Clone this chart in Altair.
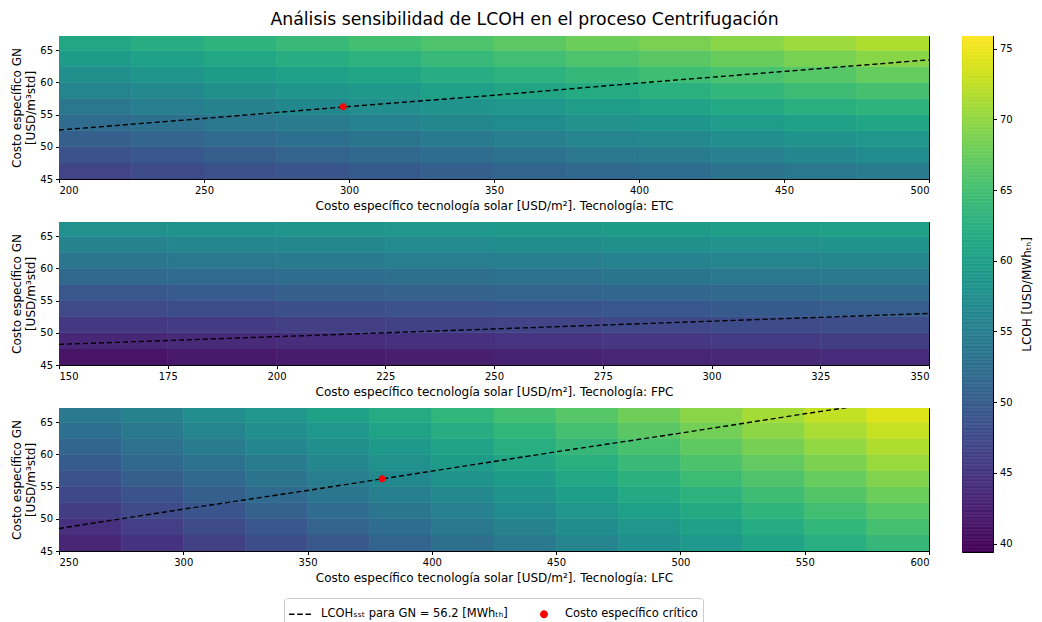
import altair as alt
import pandas as pd

TITLE = "Análisis sensibilidad de LCOH en el proceso Centrifugación"
LEG_LINE = "LCOHₛₛₜ para GN = 56.2 [MWhₜₕ]"
LEG_PT = "Costo específico crítico"
CB_TITLE = "LCOH [USD/MWhₜₕ]"

GN_EDGES = [45, 47.5, 50, 52.5, 55, 57.5, 60, 62.5, 65, 67.5]
GN_TICKS = [45, 50, 55, 60, 65]
LCOH_TICKS = [40, 45, 50, 55, 60, 65, 70, 75]
LCOH_RANGE = [39.4, 75.9]

# ETC
ETC_X_EDGES = [200, 225, 250, 275, 300, 325, 350, 375, 400, 425, 450, 475, 500]
ETC_TICKS = [200, 250, 300, 350, 400, 450, 500]
ETC_LCOH = [
    [46.7, 47.5, 48.2, 48.9, 49.6, 50.3, 51.0, 51.7, 52.4, 53.2, 53.9, 54.6],
    [48.5, 49.3, 50.1, 50.8, 51.5, 52.3, 53.1, 53.8, 54.5, 55.3, 56.1, 56.8],
    [50.3, 51.1, 51.9, 52.7, 53.4, 54.3, 55.0, 55.8, 56.6, 57.3, 58.1, 58.9],
    [52.1, 52.9, 53.8, 54.5, 55.4, 56.2, 56.9, 57.8, 58.6, 59.4, 60.2, 61.0],
    [53.9, 54.7, 55.6, 56.4, 57.3, 58.1, 58.9, 59.7, 60.6, 61.4, 62.3, 63.1],
    [55.8, 56.6, 57.5, 58.3, 59.2, 60.1, 60.9, 61.8, 62.6, 63.5, 64.4, 65.2],
    [57.5, 58.4, 59.3, 60.2, 61.0, 62.0, 62.9, 63.7, 64.6, 65.5, 66.4, 67.3],
    [59.3, 60.2, 61.2, 62.1, 62.9, 63.9, 64.8, 65.7, 66.6, 67.5, 68.5, 69.4],
    [61.1, 62.0, 63.0, 64.0, 64.9, 65.8, 66.7, 67.7, 68.6, 69.6, 70.6, 71.5],
]
ETC_LINE_X = [200, 250, 300, 350, 400, 450, 500]
ETC_LINE_GN = [52.6, 54.4, 56.25, 58.0, 59.9, 61.7, 63.5]
ETC_CRIT_X = [298]
ETC_CRIT_GN = [56.2]

# FPC
FPC_X_EDGES = [150, 175, 200, 225, 250, 275, 300, 325, 350]
FPC_TICKS = [150, 175, 200, 225, 250, 275, 300, 325, 350]
FPC_LCOH = [
    [41.2, 41.6, 42.0, 42.3, 42.7, 43.1, 43.5, 43.8],
    [43.3, 43.6, 44.0, 44.4, 44.8, 45.1, 45.5, 45.9],
    [45.3, 45.7, 46.1, 46.5, 46.8, 47.2, 47.6, 47.9],
    [47.4, 47.8, 48.1, 48.5, 48.9, 49.3, 49.6, 50.0],
    [49.4, 49.8, 50.2, 50.6, 50.9, 51.3, 51.7, 52.1],
    [51.5, 51.9, 52.3, 52.6, 53.0, 53.4, 53.8, 54.1],
    [53.6, 53.9, 54.3, 54.7, 55.1, 55.4, 55.8, 56.2],
    [55.6, 56.0, 56.4, 56.7, 57.1, 57.5, 57.9, 58.2],
    [57.7, 58.0, 58.4, 58.8, 59.2, 59.5, 59.9, 60.3],
]
FPC_LINE_X = [150, 175, 200, 225, 250, 275, 300, 325, 350]
FPC_LINE_GN = [48.2, 48.8, 49.4, 50.0, 50.6, 51.2, 51.8, 52.4, 53.0]

# LFC
LFC_X_EDGES = [250, 275, 300, 325, 350, 375, 400, 425, 450, 475, 500, 525, 550, 575, 600]
LFC_TICKS = [250, 300, 350, 400, 450, 500, 550, 600]
LFC_LCOH = [
    [43.0, 44.6, 46.2, 47.8, 49.4, 51.0, 52.6, 54.2, 55.8, 57.4, 59.0, 60.6, 62.2, 63.8],
    [44.4, 46.0, 47.6, 49.2, 50.8, 52.4, 54.0, 55.5, 57.1, 58.7, 60.3, 61.9, 63.5, 65.1],
    [45.8, 47.4, 48.9, 50.5, 52.1, 53.7, 55.3, 56.9, 58.5, 60.1, 61.6, 63.2, 64.8, 66.4],
    [47.2, 48.7, 50.3, 51.9, 53.5, 55.1, 56.6, 58.2, 59.8, 61.4, 62.9, 64.5, 66.1, 67.7],
    [48.5, 50.1, 51.7, 53.3, 54.8, 56.4, 58.0, 59.5, 61.1, 62.7, 64.3, 65.8, 67.4, 69.0],
    [49.9, 51.5, 53.1, 54.6, 56.2, 57.7, 59.3, 60.9, 62.4, 64.0, 65.6, 67.1, 68.7, 70.3],
    [51.3, 52.9, 54.4, 56.0, 57.5, 59.1, 60.6, 62.2, 63.8, 65.3, 66.9, 68.4, 70.0, 71.5],
    [52.7, 54.2, 55.8, 57.3, 58.9, 60.4, 62.0, 63.5, 65.1, 66.6, 68.2, 69.7, 71.3, 72.8],
    [54.1, 55.6, 57.2, 58.7, 60.2, 61.8, 63.3, 64.9, 66.4, 67.9, 69.5, 71.0, 72.6, 74.1],
]
LFC_LINE_X = [250, 300, 350, 400, 450, 500, 550, 571]
LFC_LINE_GN = [48.5, 51.5, 54.4, 57.4, 60.4, 63.3, 66.3, 67.5]
LFC_CRIT_X = [380]
LFC_CRIT_GN = [56.2]

FONT = "DejaVu Sans"

# legend symbol shapes (unit-square paths): dashed line and small dot
DASH_PATH = ("M-1,-0.07H-0.5V0.07H-1Z M-0.25,-0.07H0.25V0.07H-0.25Z "
             "M0.5,-0.07H1V0.07H0.5Z")
DOT_PATH = "M0.36,0A0.36,0.36 0 1,1 -0.36,0A0.36,0.36 0 1,1 0.36,0Z"

cscale = alt.Scale(scheme="viridis", domain=LCOH_RANGE)
# stroke scale (hides rect seams); domain nudged so its legend never merges
sscale_c = alt.Scale(scheme="viridis", domain=[LCOH_RANGE[0], LCOH_RANGE[1] + 1e-4])
lscale = alt.Scale(domain=[LEG_LINE, LEG_PT], range=["black", "red"])
shscale = alt.Scale(domain=[LEG_LINE, LEG_PT], range=[DASH_PATH, DOT_PATH])

sym_legend = alt.Legend(
    orient="none", legendX=225, legendY=562, direction="horizontal",
    labelFontSize=11.5, labelFont=FONT, labelColor="black", labelLimit=400,
    symbolSize=484, symbolStrokeWidth=0, symbolOpacity=1,
    strokeColor="#cccccc", fillColor="white", padding=5, cornerRadius=3,
    columnPadding=25, labelOffset=10,
)


def panel(xe, vals, lx, ly, cx, cy, ticks, tech):
    rows = []
    for i in range(len(GN_EDGES) - 1):
        for j in range(len(xe) - 1):
            rows.append({"x0": xe[j], "x1": xe[j + 1],
                         "y0": GN_EDGES[i], "y1": GN_EDGES[i + 1],
                         "v": vals[i][j]})
    cells = pd.DataFrame(rows)
    xscale = alt.Scale(domain=[xe[0], xe[-1]], nice=False, zero=False)
    yscale = alt.Scale(domain=[45, 67.2], nice=False, zero=False)
    xaxis = alt.Axis(values=ticks,
                     title=f"Costo específico tecnología solar [USD/m²]. Tecnología: {tech}")
    yaxis = alt.Axis(values=GN_TICKS, title=["Costo específico GN", "[USD/m³std]"],
                     titlePadding=2)
    X = alt.X("x0:Q", scale=xscale, axis=xaxis)
    Y = alt.Y("y0:Q", scale=yscale, axis=yaxis)

    heat = alt.Chart(cells).mark_rect(clip=True, strokeWidth=0.6).encode(
        x=X, x2="x1:Q", y=Y, y2="y1:Q",
        fill=alt.Fill("v:Q", scale=cscale, legend=None),
        stroke=alt.Stroke("v:Q", scale=sscale_c, legend=None),
    )
    ldf = pd.DataFrame({"x0": lx, "y0": ly, "leyenda": [LEG_LINE] * len(lx)})
    line = alt.Chart(ldf).mark_line(clip=True, strokeDash=[5, 3], strokeWidth=1.4).encode(
        x=X, y=Y,
        color=alt.Color("leyenda:N", scale=lscale, legend=sym_legend, title=None),
    )
    pdf = pd.DataFrame({"x0": cx, "y0": cy, "leyenda": [LEG_PT] * len(cx)})
    pt = alt.Chart(pdf).mark_point(filled=True, size=380, opacity=1).encode(
        x=X, y=Y,
        color=alt.Color("leyenda:N", scale=lscale, legend=sym_legend, title=None),
        shape=alt.Shape("leyenda:N", scale=shscale, legend=sym_legend, title=None),
    )
    return alt.layer(heat, line, pt).properties(width=870, height=143)


p1 = panel(ETC_X_EDGES, ETC_LCOH, ETC_LINE_X, ETC_LINE_GN, ETC_CRIT_X, ETC_CRIT_GN, ETC_TICKS, "ETC")
p2 = panel(FPC_X_EDGES, FPC_LCOH, FPC_LINE_X, FPC_LINE_GN, [], [], FPC_TICKS, "FPC")
p3 = panel(LFC_X_EDGES, LFC_LCOH, LFC_LINE_X, LFC_LINE_GN, LFC_CRIT_X, LFC_CRIT_GN, LFC_TICKS, "LFC")

panels = alt.vconcat(p1, p2, p3, spacing=43, bounds="flush")

# colour bar: the shared viridis scale sampled over its own domain
colorbar = alt.Chart(alt.sequence(LCOH_RANGE[0], LCOH_RANGE[1] + 0.05, 0.1, as_="v")).transform_calculate(
    v2="datum.v + 0.1"
).mark_rect(clip=True, strokeWidth=0.6).encode(
    y=alt.Y("v:Q", scale=alt.Scale(domain=LCOH_RANGE, nice=False, zero=False),
            axis=alt.Axis(orient="right", values=LCOH_TICKS, title=CB_TITLE,
                          titleAngle=270, titlePadding=21)),
    y2="v2:Q",
    fill=alt.Fill("v:Q", scale=cscale, legend=None),
    stroke=alt.Stroke("v:Q", scale=sscale_c, legend=None),
).properties(width=31, height=516)

chart = alt.hconcat(panels, colorbar, spacing=31).properties(
    title=alt.TitleParams(TITLE, fontSize=17.3, fontWeight="normal", font=FONT,
                          anchor="middle", dx=3, offset=7, color="black"),
    padding={"left": 2, "top": 3, "right": 0, "bottom": 0},
).configure_axis(
    domainColor="black", tickColor="black", labelColor="black", titleColor="black",
    labelFont=FONT, titleFont=FONT, labelFontSize=10, titleFontSize=12,
    titleFontWeight="normal", tickSize=3.5, grid=False, labelPadding=3, titlePadding=5,
).configure_view(stroke="black", strokeWidth=1)

chart.save("out.html", embed_options={"renderer": "svg", "actions": False})
